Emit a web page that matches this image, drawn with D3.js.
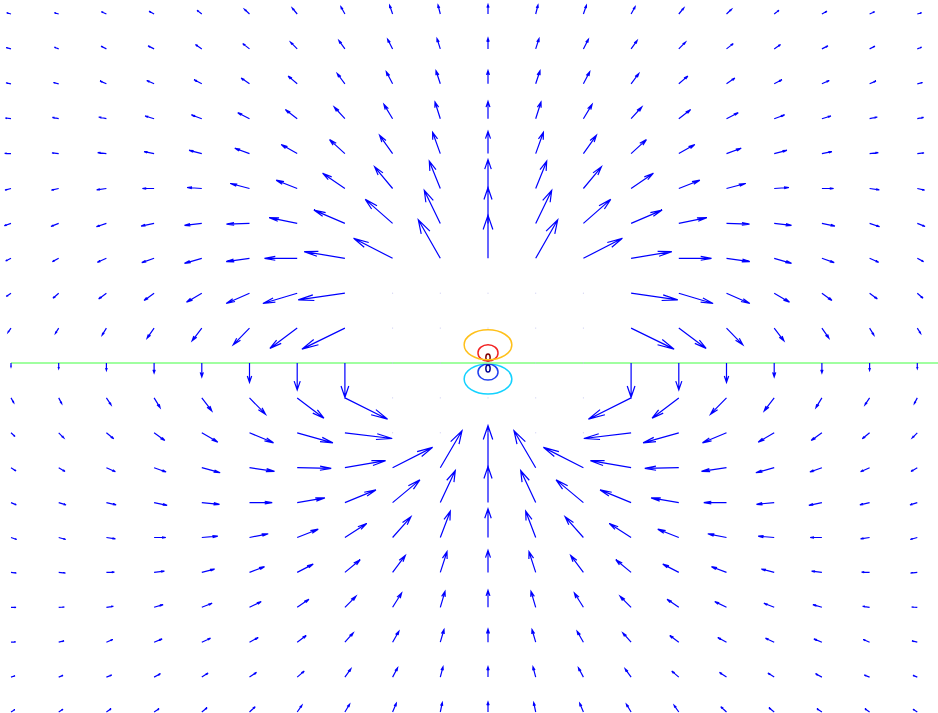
<!DOCTYPE html>
<html>
<head>
<meta charset="utf-8">
<script src="https://cdn.jsdelivr.net/npm/d3@7/dist/d3.min.js"></script>
<style>
  html, body { margin: 0; padding: 0; background: #fff; overflow: hidden; }
</style>
</head>
<body>
<div id="chart"></div>
<script>
// Grid of the quiver plot (data units)
const xs = [-10, -9, -8, -7, -6, -5, -4, -3, -2, -1, 0, 1, 2, 3, 4, 5, 6, 7, 8, 9];
const ys = [10, 9, 8, 7, 6, 5, 4, 3, 2, 1, 0, -1, -2, -3, -4, -5, -6, -7, -8, -9, -10];

// Field components as drawn (one row per y, one column per x)
const U = [
  [-4.3, -4.3, -5, -5, -4.7, -5, -5, -4, -3, -2.3, 0, 2.3, 3, 4, 5, 5, 4.7, 5, 5, 4.3],
  [-4.7, -4.3, -5.3, -6, -6.3, -6.7, -6.7, -6, -5, -3.3, 0, 3.3, 5, 6, 6.7, 6.7, 6.3, 6, 5.3, 4.3],
  [-5, -5.3, -6.3, -7.3, -7.7, -8.3, -9, -7.7, -6.3, -4.3, 0, 4.3, 6.3, 7.7, 9, 8.3, 7.7, 7.3, 6.3, 5.3],
  [-5.7, -6.3, -7.7, -9, -10.3, -11.7, -11.7, -10.7, -8.7, -5.3, 0, 5.3, 8.7, 10.7, 11.7, 11.7, 10.3, 9, 7.7, 6.3],
  [-6.3, -6.7, -8.7, -10, -12.7, -14.7, -16, -15.3, -13, -7.7, 0, 7.7, 13, 15.3, 16, 14.7, 12.7, 10, 8.7, 6.7],
  [-6, -7.3, -9.7, -11.7, -14.7, -19, -21, -22.3, -18, -11, 0, 11, 18, 22.3, 21, 19, 14.7, 11.7, 9.7, 7.3],
  [-6.7, -7.7, -10, -13, -17.3, -23, -28, -31, -27.3, -16, 0, 16, 27.3, 31, 28, 23, 17.3, 13, 10, 7.7],
  [-5.3, -6.3, -9, -12.3, -17.3, -23.3, -32.7, -40.7, -39, -22, 0, 22, 39, 40.7, 32.7, 23.3, 17.3, 12.3, 9, 6.3],
  [-4.7, -5.7, -7.7, -10, -15.3, -23.3, -34.3, -46.7, 0, 0, 0, 0, 0, 46.7, 34.3, 23.3, 15.3, 10, 7.7, 5.7],
  [-3, -3.3, -4.3, -7, -9.7, -16.3, -27.3, -43, 0, 0, 0, 0, 0, 43, 27.3, 16.3, 9.7, 7, 4.3, 3.3],
  [0, 0, 0, 0, 0, 0, 0, 0, 0, 0, 0, 0, 0, 0, 0, 0, 0, 0, 0, 0],
  [2.7, 3, 4.7, 6, 10, 16, 26.7, 42.7, 0, 0, 0, 0, 0, -42.7, -26.7, -16, -10, -6, -4.7, -3],
  [4, 5, 7.3, 10.7, 16, 24, 35.7, 47.3, 0, 0, 0, 0, 0, -47.3, -35.7, -24, -16, -10.7, -7.3, -5],
  [5, 6.3, 9, 12, 18.3, 25, 34, 40.7, 40, 21.7, 0, -21.7, -40, -40.7, -34, -25, -18.3, -12, -9, -6.3],
  [5.3, 7.3, 9.7, 13, 17.7, 22.7, 27.7, 31, 27.3, 15, 0, -15, -27.3, -31, -27.7, -22.7, -17.7, -13, -9.7, -7.3],
  [5.7, 7, 9, 11.7, 16, 18.7, 21, 21.7, 18.3, 10, 0, -10, -18.3, -21.7, -21, -18.7, -16, -11.7, -9, -7],
  [5.3, 6.7, 8, 10.3, 12.7, 15, 16, 15.3, 12.7, 6.7, 0, -6.7, -12.7, -15.3, -16, -15, -12.7, -10.3, -8, -6.7],
  [5, 5.7, 7, 9, 10.3, 11.7, 11.7, 11, 9, 4.7, 0, -4.7, -9, -11, -11.7, -11.7, -10.3, -9, -7, -5.7],
  [4.7, 5.3, 6.3, 8, 8.7, 8.7, 9, 8.3, 6.3, 3.7, 0, -3.7, -6.3, -8.3, -9, -8.7, -8.7, -8, -6.3, -5.3],
  [4, 4.3, 5.3, 6.3, 6.3, 7, 7, 6, 5, 2.7, 0, -2.7, -5, -6, -7, -7, -6.3, -6.3, -5.3, -4.3],
  [3.7, 4.3, 4.7, 5, 5.3, 5.7, 4.7, 4.7, 3.7, 2, 0, -2, -3.7, -4.7, -4.7, -5.7, -5.3, -5, -4.7, -4.3]
];
const V = [
  [1.3, 1.3, 2.3, 2.7, 3.7, 4.7, 6, 7.3, 8.7, 9, 9.5, 9, 8.7, 7.3, 6, 4.7, 3.7, 2.7, 2.3, 1.3],
  [1.3, 1.7, 2.7, 3, 4.3, 5.3, 6.7, 8.3, 9.7, 10.3, 10.7, 10.3, 9.7, 8.3, 6.7, 5.3, 4.3, 3, 2.7, 1.7],
  [1, 1.3, 2.7, 3.3, 4, 5.7, 7.7, 10.3, 12, 13, 13.3, 13, 12, 10.3, 7.7, 5.7, 4, 3.3, 2.7, 1.3],
  [0.7, 1.3, 1.7, 2.7, 3.7, 6, 9, 11.7, 14.3, 16.7, 17.3, 16.7, 14.3, 11.7, 9, 6, 3.7, 2.7, 1.7, 1.3],
  [0.3, 0.7, 1, 2, 3.3, 5.3, 9, 14, 18.3, 21.3, 22.3, 21.3, 18.3, 14, 9, 5.3, 3.3, 2, 1, 0.7],
  [-1.7, -1.7, -1.3, 0, 1, 5, 8.3, 15.3, 21.7, 27.3, 29, 27.3, 21.7, 15.3, 8.3, 5, 1, 0, -1.3, -1.7],
  [-2.3, -3, -3.3, -2.7, -2, -0.7, 5.7, 13.3, 24, 33, 35.7, 33, 24, 13.3, 5.7, -0.7, -2, -2.7, -3.3, -3],
  [-2.7, -3.3, -4, -4.3, -5, -3.3, 0, 6.7, 20, 38.5, 43, 38.5, 20, 6.7, 0, -3.3, -5, -4.3, -4, -3.3],
  [-3.3, -5, -5.7, -7.3, -9, -10.3, -10.3, -6.7, 0, 0, 0, 0, 0, -6.7, -10.3, -10.3, -9, -7.3, -5.7, -5],
  [-4.3, -5.3, -7, -10, -12.7, -16.7, -20.3, -21, 0, 0, 0, 0, 0, -21, -20.3, -16.7, -12.7, -10, -7, -5.3],
  [-4, -5.7, -7.3, -10, -14, -19.3, -27, -34.3, 0, 0, 0, 0, 0, -34.3, -27, -19.3, -14, -10, -7.3, -5.7],
  [-4.7, -5.7, -7, -9.7, -13, -16.3, -20.3, -21.3, 0, 0, 0, 0, 0, -21.3, -20.3, -16.3, -13, -9.7, -7, -5.7],
  [-3.7, -5, -6, -7.7, -9.3, -10, -10, -5.7, 0, 0, 0, 0, 0, -5.7, -10, -10, -9.3, -7.7, -6, -5],
  [-3.3, -3.7, -4, -4.3, -5, -3.7, -0.7, 7, 20.3, 37, 42, 37, 20.3, 7, -0.7, -3.7, -5, -4.3, -4, -3.7],
  [-2.3, -2.3, -2.3, -2.7, -1.7, 0, 4.7, 12.7, 22.7, 32, 36, 32, 22.7, 12.7, 4.7, 0, -1.7, -2.7, -2.3, -2.3],
  [-2, -2, -1.3, 0, 1.3, 3.7, 8.3, 14, 20.7, 26.3, 28.7, 26.3, 20.7, 14, 8.3, 3.7, 1.3, 0, -1.3, -2],
  [-0.7, -0.7, 0.3, 1.3, 3.3, 5.7, 8.3, 12.7, 17, 20.7, 22, 20.7, 17, 12.7, 8.3, 5.7, 3.3, 1.3, 0.3, -0.7],
  [0, 0.3, 1, 2.7, 4, 5.7, 8, 11, 14.3, 16, 17, 16, 14.3, 11, 8, 5.7, 4, 2.7, 1, 0.3],
  [0.3, 1.3, 2.7, 3.3, 4, 4.7, 6.7, 9.3, 11, 12.7, 13, 12.7, 11, 9.3, 6.7, 4.7, 4, 3.3, 2.7, 1.3],
  [1.3, 1.7, 2, 3.3, 4, 4.7, 6, 8.3, 9.3, 10.3, 10.3, 10.3, 9.3, 8.3, 6, 4.7, 4, 3.3, 2, 1.7],
  [2.3, 2.7, 3.3, 3.3, 4.3, 5.3, 6.7, 7.7, 8.7, 9.3, 10, 9.3, 8.7, 7.7, 6.7, 5.3, 4.3, 3.3, 3.3, 2.7]
];

// Equipotential contours around the dipole (closed rings) plus the zero level
const ringLevels = [3, 2, 1, -1, -2, -3];
const ringCy = [0.16, 0.29, 0.52, -0.46, -0.26, -0.16];
const ringRx = [0.045, 0.21, 0.5, 0.5, 0.21, 0.045];
const ringRy = [0.1, 0.23, 0.43, 0.43, 0.23, 0.1];
const zeroLevelX = [-10, 10];

const LEVEL_COLOR = {
  3: '#800000', 2: '#f22424', 1: '#ffc01a', 0: '#80ff80',
  '-1': '#14d2ff', '-2': '#2040f0', '-3': '#000090'
};
const ARROW = '#0000ff';
const ALPHA = 0.33; // head length relative to arrow
const BETA = 0.25;  // head width relative to arrow

const width = 938;
const height = 713;

const svg = d3.select('#chart').append('svg')
  .attr('width', width).attr('height', height);

const x = d3.scaleLinear().domain([-10, 10]).range([11, 965]);
const y = d3.scaleLinear().domain([-10, 10]).range([712, 14]);
// arrow length: field units -> data units, per axis (quiver autoscale)
const ux = d3.scaleLinear().domain([0, 1]).range([0, 1 / (x(1) - x(0))]);
const vy = d3.scaleLinear().domain([0, 1]).range([0, 1 / (y(0) - y(1))]);

// contours first
const rings = svg.append('g').attr('fill', 'none').attr('stroke-width', 1.5);
ringLevels.forEach((lv, i) => {
  rings.append('ellipse')
    .attr('cx', x(0))
    .attr('cy', y(ringCy[i]))
    .attr('rx', x(ringRx[i]) - x(0))
    .attr('ry', y(0) - y(ringRy[i]))
    .attr('stroke', LEVEL_COLOR[lv]);
});
svg.append('line')
  .attr('x1', x(zeroLevelX[0])).attr('x2', x(zeroLevelX[1]))
  .attr('y1', y(0)).attr('y2', y(0))
  .attr('stroke', LEVEL_COLOR[0]).attr('stroke-width', 1.5);

// quiver
const cells = [];
ys.forEach((yv, j) => xs.forEach((xv, i) => {
  cells.push({ x: xv, y: yv, u: ux(U[j][i]), v: vy(V[j][i]) });
}));

const g = svg.append('g');
g.selectAll('path.arrow')
  .data(cells.filter(d => d.u !== 0 || d.v !== 0))
  .enter().append('path')
  .attr('class', 'arrow')
  .attr('fill', 'none')
  .attr('stroke', ARROW)
  .attr('stroke-width', 1.2)
  .attr('d', d => {
    const tx = d.x + d.u, ty = d.y + d.v;
    const b1x = tx - ALPHA * (d.u + BETA * d.v), b1y = ty - ALPHA * (d.v - BETA * d.u);
    const b2x = tx - ALPHA * (d.u - BETA * d.v), b2y = ty - ALPHA * (d.v + BETA * d.u);
    return `M${x(d.x)},${y(d.y)}L${x(tx)},${y(ty)}` +
      `M${x(b1x)},${y(b1y)}L${x(tx)},${y(ty)}L${x(b2x)},${y(b2y)}`;
  });

// zero-length vectors show up as faint dots
g.selectAll('rect.zero')
  .data(cells.filter(d => d.u === 0 && d.v === 0))
  .enter().append('rect')
  .attr('class', 'zero')
  .attr('x', d => x(d.x) - 0.5)
  .attr('y', d => y(d.y) - 0.5)
  .attr('width', 1).attr('height', 1)
  .attr('fill', '#c8c8f0');
</script>
</body>
</html>
